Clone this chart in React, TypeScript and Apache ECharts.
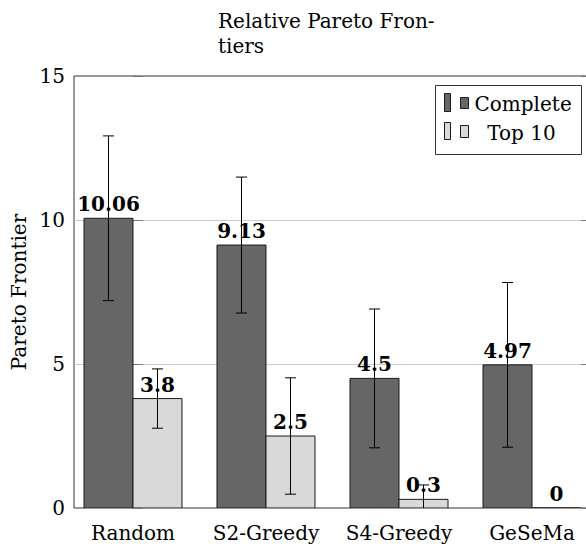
import React, { useEffect, useRef } from "react";
import * as echarts from "echarts";

const categories = ["Random", "S2-Greedy", "S4-Greedy", "GeSeMa"];
const completeValues = [10.06, 9.13, 4.5, 4.97];
const completeErrors = [2.86, 2.36, 2.41, 2.86];
const top10Values = [3.8, 2.5, 0.3, 0];
const top10Errors = [1.03, 2.02, 0.5, 0];
const yMin = 0;
const yMax = 15;
const yInterval = 5;
const titleText = "Relative Pareto Fron-\ntiers";
const yAxisTitle = "Pareto Frontier";
const legendNames = ["Complete", "Top 10"];

const FONT = "DejaVu Serif";
const FS = 20;
const BAR_W = 49;
const DARK = "#666666";
const LIGHT = "#d9d9d9";
const EDGE = "#1a1a1a";

function makeRender(offsetPx: number, color: string) {
  return (params: any, api: any) => {
    const i = api.value(0);
    const v = api.value(1);
    const e = api.value(2);
    const base = api.coord([i, 0]);
    const top = api.coord([i, v]);
    const x0 = base[0] + offsetPx;
    const cx = x0 + BAR_W / 2;
    const children: any[] = [
      {
        type: "rect",
        shape: { x: x0, y: top[1], width: BAR_W, height: base[1] - top[1] },
        style: { fill: color, stroke: EDGE, lineWidth: 1 },
      },
      {
        type: "text",
        x: cx,
        y: top[1] - 4,
        style: {
          text: String(v),
          fontFamily: FONT,
          fontWeight: "bold",
          fontSize: FS,
          fill: "#000",
          align: "center",
          verticalAlign: "bottom",
        },
      },
    ];
    if (e > 0) {
      const hi = api.coord([i, v + e])[1];
      const lo = api.coord([i, v - e])[1];
      const ls = { stroke: "#000", lineWidth: 1 };
      children.push({ type: "line", shape: { x1: cx, y1: hi, x2: cx, y2: lo }, style: ls });
      children.push({ type: "line", shape: { x1: cx - 5.5, y1: hi, x2: cx + 5.5, y2: hi }, style: ls });
      children.push({ type: "line", shape: { x1: cx - 5.5, y1: lo, x2: cx + 5.5, y2: lo }, style: ls });
    }
    return { type: "group", children };
  };
}

export default function App() {
  const ref = useRef<HTMLDivElement>(null);
  useEffect(() => {
    if (!ref.current) return;
    const chart = echarts.init(ref.current, undefined, { renderer: "svg" });
    const textBase = { fontFamily: FONT, fontSize: FS, color: "#000" };
    chart.setOption({
      animation: false,
      backgroundColor: "#fff",
      title: {
        text: titleText,
        left: 213,
        top: 3,
        textStyle: { fontFamily: FONT, fontSize: FS, fontWeight: "normal", color: "#000", lineHeight: 25 },
      },
      grid: {
        left: 74,
        top: 76,
        width: 517,
        height: 432,
        show: true,
        borderColor: "#333",
        borderWidth: 1,
        containLabel: false,
        outerBoundsMode: "none",
      },
      xAxis: {
        type: "value",
        min: -0.4436,
        max: 3.4436,
        axisLine: { show: false },
        axisTick: { show: false },
        splitLine: { show: false },
        axisLabel: {
          customValues: [0, 1, 2, 3],
          formatter: (val: number) => categories[Math.round(val)] ?? "",
          ...textBase,
          margin: 15,
        },
      },
      yAxis: [
        {
          type: "value",
          min: yMin,
          max: yMax,
          interval: yInterval,
          name: yAxisTitle,
          nameLocation: "middle",
          nameGap: 41,
          nameTextStyle: { ...textBase },
          axisLine: { show: false },
          axisTick: { show: true, inside: true, length: 10, lineStyle: { color: "#777" } },
          axisLabel: { ...textBase, margin: 9 },
          splitLine: { show: true, showMinLine: false, showMaxLine: false, lineStyle: { color: "#cccccc" } },
        },
        {
          type: "value",
          position: "right",
          min: yMin,
          max: yMax,
          interval: yInterval,
          axisLine: { show: false },
          axisTick: { show: true, inside: true, length: 10, lineStyle: { color: "#777" } },
          axisLabel: { show: false },
          splitLine: { show: false },
        },
      ],
      series: [
        {
          name: legendNames[0],
          type: "custom",
          clip: true,
          encode: { x: 0, y: 1 },
          renderItem: makeRender(-BAR_W, DARK),
          data: categories.map((_, i) => [i, completeValues[i], completeErrors[i]]),
        },
        {
          name: legendNames[1],
          type: "custom",
          clip: true,
          encode: { x: 0, y: 1 },
          renderItem: makeRender(0, LIGHT),
          data: categories.map((_, i) => [i, top10Values[i], top10Errors[i]]),
        },
      ],
      graphic: [
        {
          type: "group",
          left: 435,
          top: 85,
          z: 10,
          children: [
            { type: "rect", shape: { x: 0, y: 0, width: 146, height: 69 }, style: { fill: "#fff", stroke: "#333", lineWidth: 1 } },
            { type: "rect", shape: { x: 9, y: 8, width: 6, height: 18 }, style: { fill: DARK, stroke: EDGE, lineWidth: 1 } },
            { type: "rect", shape: { x: 25, y: 12, width: 8, height: 11 }, style: { fill: DARK, stroke: EDGE, lineWidth: 1 } },
            {
              type: "text",
              x: 39,
              y: 18,
              style: { text: legendNames[0], fontFamily: FONT, fontSize: FS, fill: "#000", align: "left", verticalAlign: "middle" },
            },
            { type: "rect", shape: { x: 9, y: 37, width: 6, height: 17 }, style: { fill: LIGHT, stroke: EDGE, lineWidth: 1 } },
            { type: "rect", shape: { x: 25, y: 40, width: 8, height: 12 }, style: { fill: LIGHT, stroke: EDGE, lineWidth: 1 } },
            {
              type: "text",
              x: 86,
              y: 47,
              style: { text: legendNames[1], fontFamily: FONT, fontSize: FS, fill: "#000", align: "center", verticalAlign: "middle" },
            },
          ],
        },
      ],
    });
    return () => chart.dispose();
  }, []);
  return (
    <div
      ref={ref}
      style={{ position: "fixed", left: 0, top: 0, width: 586, height: 548, background: "#fff" }}
    />
  );
}
